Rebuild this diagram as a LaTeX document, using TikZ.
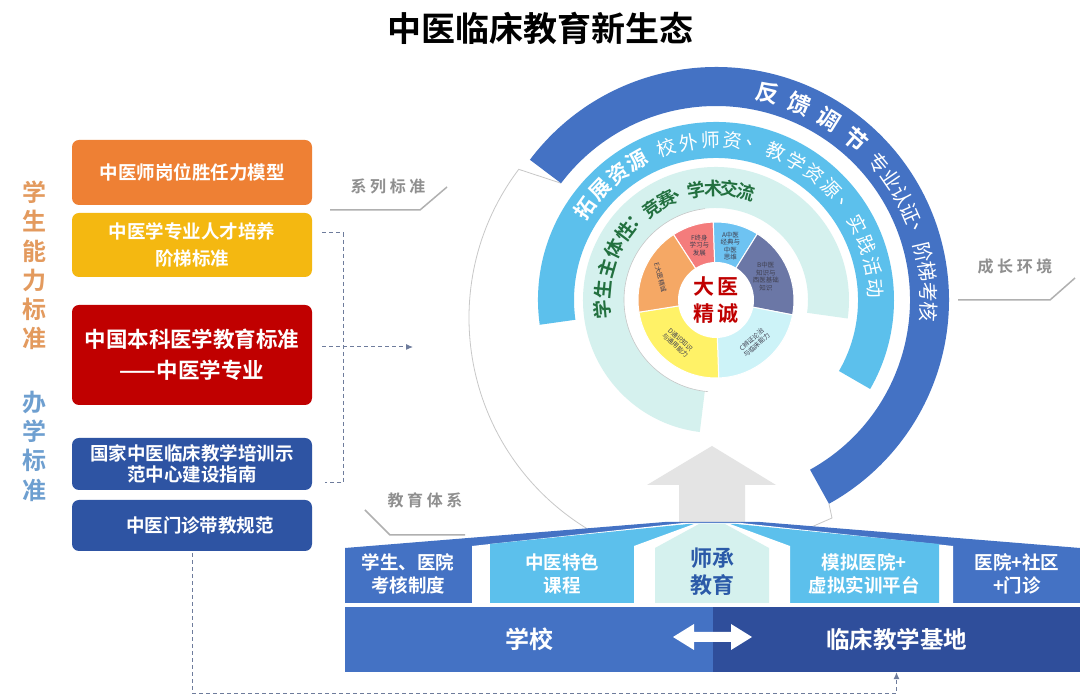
\documentclass[tikz,border=0pt]{standalone}
\usepackage{fontspec}
\setmainfont{Noto Sans CJK SC}[BoldFont={Noto Sans CJK SC Bold}]
\usetikzlibrary{positioning,arrows.meta}
\definecolor{RingDark}{HTML}{4472C4}
\definecolor{RingLight}{HTML}{5CC0EC}
\definecolor{RingTeal}{HTML}{D5F1EE}
\definecolor{BarRight}{HTML}{2F4E9B}
\definecolor{BoxOrange}{HTML}{EE8034}
\definecolor{BoxGold}{HTML}{F4B811}
\definecolor{BoxRed}{HTML}{C00000}
\definecolor{BoxBlue}{HTML}{2E54A3}
\definecolor{PieF}{HTML}{F47C7C}
\definecolor{PieA}{HTML}{6EC3F2}
\definecolor{PieB}{HTML}{6B77A6}
\definecolor{PieC}{HTML}{CDF3F8}
\definecolor{PieD}{HTML}{FFF267}
\definecolor{PieE}{HTML}{F5A865}
\definecolor{PieText}{HTML}{404050}
\definecolor{TealText}{HTML}{22703F}
\definecolor{MasterText}{HTML}{2B5AA8}
\definecolor{StdOrange}{HTML}{E39A5E}
\definecolor{StdBlue}{HTML}{6E9FD0}
\definecolor{TagGray}{HTML}{8F8F8F}
\definecolor{TagLine}{HTML}{B0B0B0}
\definecolor{LinkGray}{HTML}{6E7C9C}
\definecolor{ArrowGray}{HTML}{E4E4E4}
\definecolor{OutlineGray}{HTML}{C8C8C8}

\begin{document}
\begin{tikzpicture}[x=1pt,y=1pt,
    stdbox/.style={rounded corners=7pt,minimum width=240pt,inner sep=0pt,text=white,align=center,font=\bfseries\fontsize{18.5}{21}\selectfont},
    rowtext/.style={text=white,align=center,font=\bfseries\fontsize{18.5}{23}\selectfont},
    pielabel/.style={inner sep=0pt,align=center,text=PieText,font=\fontsize{6.5}{7.5}\selectfont},
    tagtext/.style={text=TagGray,font=\bfseries\fontsize{16}{16}\selectfont},
    tagline/.style={draw=TagLine,line width=1.5pt},
    link/.style={draw=LinkGray,line width=1pt,dash pattern=on 4pt off 3pt},
  ]
  \fill[white] (0,0) rectangle (1080,696);
  \useasboundingbox (0,0) rectangle (1080,696);
  \coordinate (C) at (716,396);
  \coordinate (W) at (716,378);

  \node[font=\bfseries\fontsize{34}{34}\selectfont] (title) at (540,668) {中医临床教育新生态};

  % rings
  \draw[OutlineGray,line width=0.8pt] ([shift={(-61:233)}]C) -- (832,178) -- (800,164);
  \draw[OutlineGray,line width=0.8pt] ([shift={(143:194)}]C) -- ([shift={(143:247)}]W)
    arc[start angle=143,end angle=290,radius=247];
  \fill[RingDark] ([shift={(143:233)}]C) arc[start angle=143,end angle=-61,radius=233]
    -- ([shift={(-61:194)}]C) arc[start angle=-61,end angle=143,radius=194] -- cycle;
  \fill[RingLight] ([shift={(188:178)}]C) arc[start angle=188,end angle=-30,radius=178]
    -- ([shift={(-30:142)}]C) arc[start angle=-30,end angle=188,radius=142] -- cycle;
  \fill[RingTeal] ([shift={(263:133)}]C) arc[start angle=263,end angle=-8,radius=133]
    -- ([shift={(-8:92)}]C) arc[start angle=-8,end angle=263,radius=92] -- cycle;
  \draw[OutlineGray,line width=0.6pt] ([shift={(97:92)}]C) arc[start angle=97,end angle=265,radius=92];

  % pie
  \foreach \a/\b/\c in {123/92/PieF,92/58/PieA,58/-11/PieB,-11/-88/PieC,-88/-171/PieD,189/123/PieE}
    \filldraw[fill=\c,draw=white,line width=1pt] (C) -- ++(\a:78) arc[start angle=\a,end angle=\b,radius=78] -- cycle;
  \fill[white] (C) circle[radius=38];
  \node[text=BoxRed,align=center,font=\bfseries\fontsize{21}{27}\selectfont] (core) at (C) {大\,医\\精\,诚};
  \node[pielabel] (pf) at ([shift={(107:57)}]C) {F终身\\学习与\\发展};
  \node[pielabel] (pa) at ([shift={(75:56)}]C) {A中医\\经典与\\中医\\思维};
  \node[pielabel] (pb) at ([shift={(25:55)}]C) {B中医\\知识与\\西医基础\\知识};
  \node[pielabel,rotate=42] (pc) at ([shift={(-48:57)}]C) {C辨证论治\\与临床能力};
  \node[pielabel,rotate=-42] (pd) at ([shift={(228:57)}]C) {D通识知识\\与通用能力};
  \node[pielabel,rotate=-75] (pe) at ([shift={(158:60)}]C) {E大医精诚};

  % ring texts
  \foreach \ch/\a [count=\i] in {反/76,馈/67,调/58,节/49}
    \node[inner sep=0pt,text=white,font=\bfseries\fontsize{23}{23}\selectfont,rotate=\a-90] (fb\i) at ([shift={(\a:213)}]C) {\ch};
  \foreach \ch/\a [count=\i] in {专/40,业/34.6,认/29.2,证/23.8,、/18.4,阶/13,梯/7.6,考/2.2,核/-3.2}
    \node[inner sep=0pt,text=white,font=\fontsize{20}{20}\selectfont,rotate=\a-90] (ac\i) at ([shift={(\a:213)}]C) {\ch};
  \foreach \ch/\a [count=\i] in {拓/145,展/136.5,资/128,源/119.5}
    \node[inner sep=0pt,text=white,font=\bfseries\fontsize{21}{21}\selectfont,rotate=\a-90] (ex\i) at ([shift={(\a:160)}]C) {\ch};
  \foreach \ch/\a [count=\i] in {校/108,外/100,师/92,资/84,、/76,教/68,学/60,资/52,源/44,、/36,实/28,践/20,活/12,动/4}
    \node[inner sep=0pt,text=white,font=\fontsize{19}{19}\selectfont,rotate=\a-90] (rs\i) at ([shift={(\a:160)}]C) {\ch};
  \foreach \ch/\a [count=\i] in {学/185,生/174.5,主/164,体/153.5,性/143,：/134}
    \node[inner sep=0pt,text=TealText,font=\bfseries\fontsize{19}{19}\selectfont,rotate=\a-90] (st\i) at ([shift={(\a:114)}]C) {\ch};
  \foreach \ch/\a [count=\i] in {竞/125,赛/116,、/108,学/100,术/91.5,交/83,流/74.5}
    \node[inner sep=0pt,text=TealText,font=\bfseries\fontsize{18}{18}\selectfont,rotate=\a-90] (cp\i) at ([shift={(\a:112)}]C) {\ch};

  % up arrow and roof
  \fill[ArrowGray] (679,173) -- (679,211) -- (647,211) -- (712,250) -- (776,211) -- (745,211) -- (745,173) -- cycle;
  \fill[RingDark] (345,93) -- (345,148) -- (665,174) -- (760,174) -- (1080,148) -- (1080,93) -- cycle;
  \fill[white] (472,93) -- (472,150) -- (683,173) -- (741,173) -- (953,150) -- (953,93) -- cycle;
  \fill[RingLight] (490,93) -- (490,152) -- (688,172) -- (736,172) -- (939,152) -- (939,93) -- cycle;
  \fill[white] (634,93) -- (634,150) -- (694,172) -- (730,172) -- (790,150) -- (790,93) -- cycle;
  \fill[RingTeal] (655,93) -- (655,148) -- (699,172) -- (725,172) -- (769,148) -- (769,93) -- cycle;
  \node[rowtext] (exam) at (408,122) {学生、医院\\考核制度};
  \node[rowtext] (course) at (562,122) {中医特色\\课程};
  \node[rowtext,text=MasterText,font=\bfseries\fontsize{22}{27}\selectfont] (master) at (712,124) {师承\\教育};
  \node[rowtext] (sim) at (864,122) {模拟医院+\\虚拟实训平台};
  \node[rowtext] (clinic) at (1017,122) {医院+社区\\+门诊};

  % bottom bar
  \node[fill=RingDark,minimum width=368pt,minimum height=65pt,inner sep=0pt,text=white,font=\bfseries\fontsize{24}{24}\selectfont] (school) at (529,56.5) {学校};
  \node[fill=BarRight,minimum width=367pt,minimum height=65pt,inner sep=0pt,text=white,font=\bfseries\fontsize{23.5}{24}\selectfont] (base) at (896.5,56.5) {临床教学基地};
  \fill[white] (673,59) -- (694,72) -- (694,64) -- (731,64) -- (731,72) -- (752,59) -- (731,46) -- (731,54) -- (694,54) -- (694,46) -- cycle;

  % standards
  \node[stdbox,fill=BoxOrange,minimum height=65pt] (compet) at (192,523.5) {中医师岗位胜任力模型};
  \node[stdbox,fill=BoxGold,minimum height=64pt,font=\bfseries\fontsize{18.5}{27}\selectfont] (ladder) at (192,451) {中医学专业人才培养\\阶梯标准};
  \node[stdbox,fill=BoxRed,minimum height=100pt,font=\bfseries\fontsize{21.5}{31}\selectfont] (national) at (192,341) {中国本科医学教育标准\\——中医学专业};
  \node[stdbox,fill=BoxBlue,minimum height=52pt] (center) at (192,232) {国家中医临床教学培训示\\范中心建设指南};
  \node[stdbox,fill=BoxBlue,minimum height=51pt] (outpat) at (192,170.5) {\hspace*{16pt}中医门诊带教规范};
  \node[text=StdOrange,align=center,font=\bfseries\fontsize{24}{29.3}\selectfont] (ability) at (35,430.5) {学\\生\\能\\力\\标\\准};
  \node[text=StdBlue,align=center,font=\bfseries\fontsize{24}{29.3}\selectfont] (running) at (35,250) {办\\学\\标\\准};

  \coordinate (goal) at (413,349);
  \draw[link] ([xshift=10pt,yshift=12pt]ladder.east) -- ++(21,0) |- ([xshift=13pt,yshift=-19pt]center.east);
  \draw[link,-{Latex[length=7pt,width=6pt]}] ([xshift=10pt,yshift=8pt]national.east) -- (goal);
  \draw[link,-{Latex[length=7pt,width=6pt]}] ([yshift=-2pt]outpat.south) -- ++(0,-140) -| (base.south);

  % tags
  \node[tagtext] (series) at (388,510) {系 列 标 准};
  \draw[tagline] (330,486) -- (420,486) -- (447,509);
  \node[tagtext] (grow) at (1015,430) {成 长 环 境};
  \draw[tagline] (958,396) -- (1050,396) -- (1075,418);
  \node[tagtext] (system) at (425,196) {教 育 体 系};
  \draw[tagline] (365,186) -- (390,161) -- (465,161);
\end{tikzpicture}
\end{document}
